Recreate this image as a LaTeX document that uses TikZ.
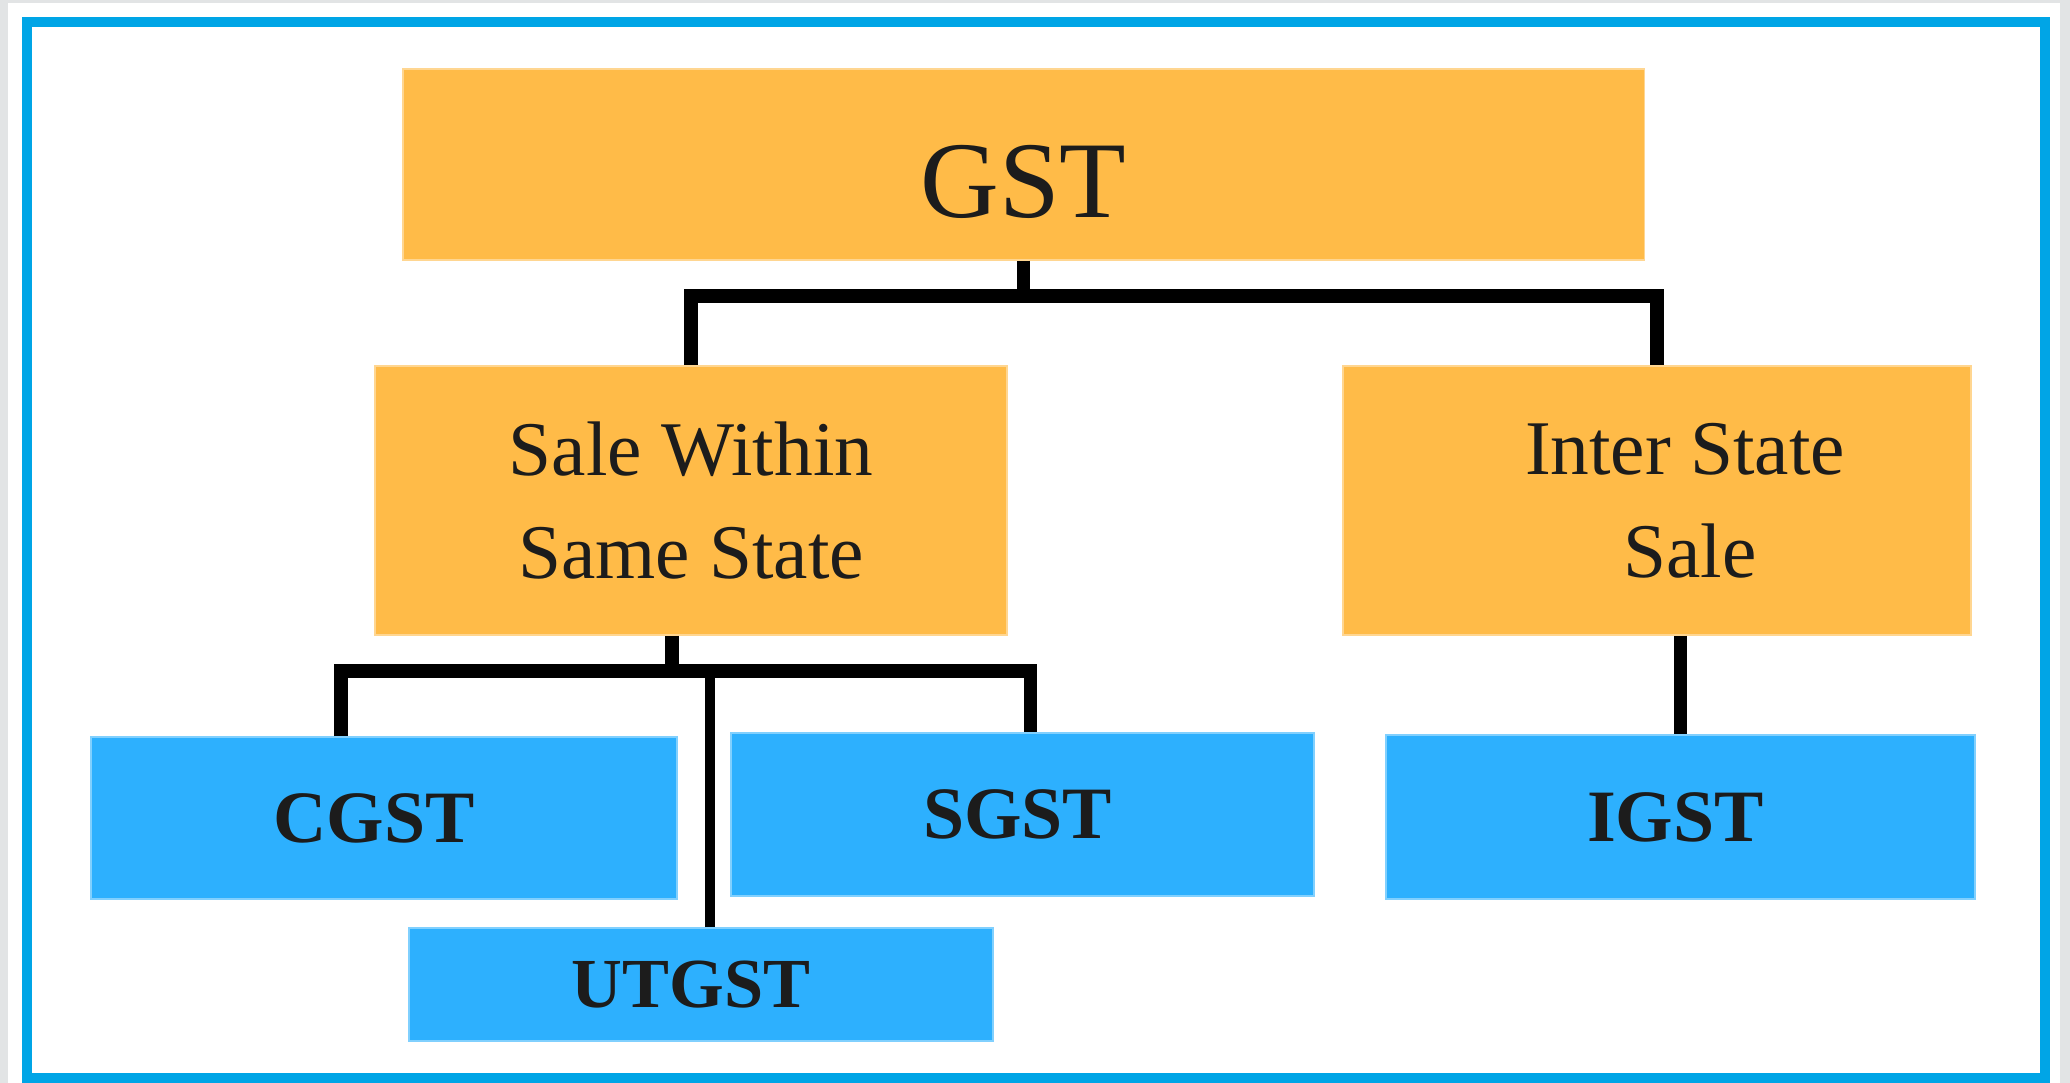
\documentclass[tikz,border=0pt]{standalone}
\usepackage{fontspec}
\setmainfont{Liberation Serif}
\usepackage{xcolor}
\usepackage{tikz}
\definecolor{gstorange}{HTML}{FFBB48}
\definecolor{gstblue}{HTML}{2DB0FE}
\definecolor{gstframe}{HTML}{00A5E6}
\definecolor{gstgrey}{HTML}{E2E4E5}
\definecolor{gsttext}{HTML}{1C1C1C}

\begin{document}
\begin{tikzpicture}[x=0.01cm, y=-0.01cm,
  salebox/.style={fill=gstorange, draw=gstorange!60!white, line width=0.5pt, inner sep=0pt, text=gsttext, align=center, font=\fontsize{22}{29.3}\selectfont},
  taxbox/.style={fill=gstblue, draw=gstblue!60!white, line width=0.5pt, inner sep=0pt, text=gsttext, font=\fontsize{21}{25}\selectfont\bfseries},
  link/.style={line width=3.8pt, black}]
\useasboundingbox (0,0) rectangle (2070,1083);
\fill[gstgrey] (0,0) rectangle (2070,1083);
\fill[white] (8,3) rectangle (2060,1083);
\draw[gstframe, line width=3pt] (27,22) rectangle (2045,1078);

\node[salebox, minimum width=12.41cm, minimum height=1.91cm, text height=1.06cm, text depth=0pt, font=\fontsize{31}{37}\selectfont] (gst) at (1023.5,164.5) {GST};
\node[salebox, minimum width=6.32cm, minimum height=2.69cm] (within) at (691,500.5) {Sale Within\\Same State};
\node[salebox, minimum width=6.28cm, minimum height=2.69cm] (inter) at (1657,500.5) {\hspace*{0.56cm}Inter State\\\hspace*{0.66cm}Sale};

\node[taxbox, minimum width=5.86cm, minimum height=1.62cm] (cgst) at (384,818) {\hspace*{-0.2cm}CGST};
\node[taxbox, minimum width=5.83cm, minimum height=1.63cm] (sgst) at (1022.5,814.5) {\hspace*{-0.1cm}SGST};
\node[taxbox, minimum width=5.89cm, minimum height=1.64cm] (igst) at (1680.5,817) {\hspace*{-0.1cm}IGST};
\node[taxbox, minimum width=5.84cm, minimum height=1.13cm, font=\fontsize{20}{24}\selectfont\bfseries] (utgst) at (701,984.5) {\hspace*{-0.2cm}UTGST};

\draw[link] (gst.south) -- ++(0,35) -| (within.north);
\draw[link] (gst.south) -- ++(0,35) -| (inter.north);
\draw[link] ([xshift=-0.19cm]within.south) -- ++(0,35) coordinate (split);
\draw[link] ([xshift=-0.43cm]cgst.north) |- (split) -| ([xshift=0.08cm]sgst.north);
\draw[link, line width=2.8pt] ([xshift=0.09cm]utgst.north) |- (split);
\draw[link] (inter.south -| igst.north) -- (igst.north);
\end{tikzpicture}
\end{document}
